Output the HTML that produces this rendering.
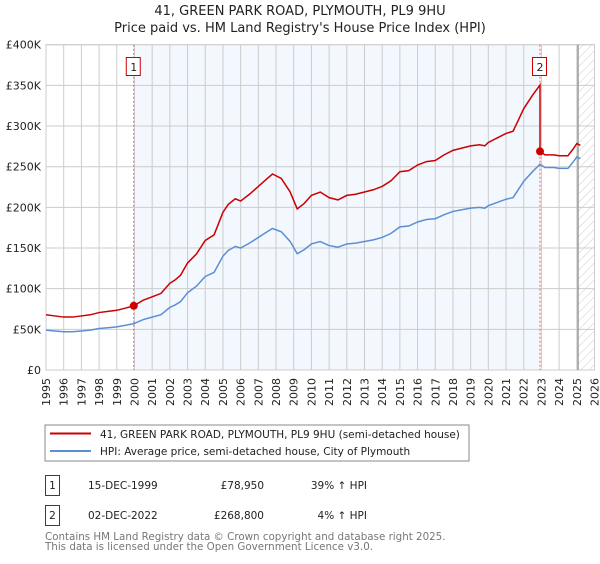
<!DOCTYPE html>
<html><head><meta charset="utf-8"><style>
body{margin:0;background:#fff;font-family:"DejaVu Sans","Liberation Sans",sans-serif;}
svg text{font-family:"DejaVu Sans","Liberation Sans",sans-serif;}
</style></head><body>
<svg id="c" width="600" height="560" xmlns="http://www.w3.org/2000/svg">
<defs><pattern id="hatch" width="6" height="6" patternUnits="userSpaceOnUse" patternTransform="rotate(45)"><line x1="0" y1="0" x2="0" y2="6" stroke="#ccc" stroke-width="1"/></pattern></defs>
<text x="300" y="15" text-anchor="middle" font-size="13" fill="#222">41, GREEN PARK ROAD, PLYMOUTH, PL9 9HU</text>
<text x="300" y="32" text-anchor="middle" font-size="13" fill="#222">Price paid vs. HM Land Registry's House Price Index (HPI)</text>
<g id="plot"></g>
<rect x="45" y="425" width="424" height="36" fill="#fff" stroke="#888"/>
<line x1="50" y1="433.5" x2="91" y2="433.5" stroke="#cc0000" stroke-width="2"/>
<text x="100" y="438" font-size="10.5" fill="#222">41, GREEN PARK ROAD, PLYMOUTH, PL9 9HU (semi-detached house)</text>
<line x1="50" y1="451" x2="91" y2="451" stroke="#5b8fd4" stroke-width="2"/>
<text x="100" y="455" font-size="10.5" fill="#222">HPI: Average price, semi-detached house, City of Plymouth</text>
<g>
<rect x="45.5" y="475.5" width="14" height="20" fill="#fff" stroke="#cc0000"/>
<text x="52.5" y="489" text-anchor="middle" font-size="10.5" fill="#222">1</text>
<text x="88" y="489" font-size="10.5" fill="#222">15-DEC-1999</text>
<text x="264" y="489" text-anchor="end" font-size="10.5" fill="#222">£78,950</text>
<text x="367" y="489" text-anchor="end" font-size="10.5" fill="#222">39% ↑ HPI</text></g>
<g>
<rect x="45.5" y="505.5" width="14" height="20" fill="#fff" stroke="#cc0000"/>
<text x="52.5" y="519" text-anchor="middle" font-size="10.5" fill="#222">2</text>
<text x="88" y="519" font-size="10.5" fill="#222">02-DEC-2022</text>
<text x="264" y="519" text-anchor="end" font-size="10.5" fill="#222">£268,800</text>
<text x="367" y="519" text-anchor="end" font-size="10.5" fill="#222">4% ↑ HPI</text></g>
<text x="45" y="540" font-size="10.3" fill="#777">Contains HM Land Registry data © Crown copyright and database right 2025.</text>
<text x="45" y="550" font-size="10.3" fill="#777">This data is licensed under the Open Government Licence v3.0.</text>
</svg>
<script>
const hpiYears=[1995,1995.5,1996,1996.5,1997,1997.5,1998,1998.5,1999,1999.5,1999.96,2000.5,2001,2001.5,2002,2002.3,2002.6,2003,2003.5,2004,2004.5,2005,2005.3,2005.7,2006,2006.5,2007,2007.5,2007.8,2008.3,2008.8,2009.2,2009.6,2010,2010.5,2011,2011.5,2012,2012.5,2013,2013.5,2014,2014.5,2015,2015.5,2016,2016.5,2017,2017.5,2018,2018.5,2019,2019.5,2019.8,2020,2020.5,2021,2021.4,2022,2022.5,2022.92,2023.2,2023.7,2024,2024.5,2024.8,2025,2025.2];
const hpiValues=[49,48,47,47,48,49,51,52,53,55,57,62,65,68,77,80,84,95,103,115,120,140,147,152,150,156,163,170,174,170,158,143,148,155,158,153,151,155,156,158,160,163,168,176,177,182,185,186,191,195,197,199,200,199,202,206,210,212,232,244,253,249,249,248,248,256,262,260];
const saleDates=[1999.96,2022.92];
const salePrices=[78.95,268.8];
const saleLabels=["1","2"];
const yTicks=[0,50,100,150,200,250,300,350,400];
const yTickLabels=["£0","£50K","£100K","£150K","£200K","£250K","£300K","£350K","£400K"];
const xTicks=[];for(let y=1995;y<=2026;y++)xTicks.push(y);
const X0=46,X1=594.5,Y0=370,Y1=44.7;
const sx=t=>X0+(t-1995)/31*(X1-X0);
const sy=v=>Y0-v/400*(Y0-Y1);
const NS="http://www.w3.org/2000/svg";
const g=document.getElementById('plot');
function mk(tag,at){const e=document.createElementNS(NS,tag);for(const k in at)e.setAttribute(k,at[k]);g.appendChild(e);return e;}
let e=mk('rect',{x:X0,y:Y1,width:X1-X0,height:Y0-Y1,fill:'#fff',stroke:'#ccc'});


e=mk('rect',{x:sx(saleDates[0]),y:Y1,width:sx(saleDates[1])-sx(saleDates[0]),height:Y0-Y1,fill:'#eef3fd',opacity:0.7});


e=mk('rect',{x:sx(2025.07),y:Y1,width:X1-sx(2025.07),height:Y0-Y1,fill:'url(#hatch)'});


xTicks.forEach(t=>{
  let l=mk('line',{x1:sx(t),x2:sx(t),y1:Y1,y2:Y0,stroke:'#ccc'});
  
  
  let tx=mk('text',{x:0,y:0,'font-size':11,fill:'#222','text-anchor':'end',transform:`translate(${sx(t)+4},${Y0+8}) rotate(-90)`});
  tx.textContent=t;
  
  
});
yTicks.forEach((v,i)=>{
  let l=mk('line',{x1:X0,x2:X1,y1:sy(v),y2:sy(v),stroke:'#ccc'});
  
  
  let tx=mk('text',{x:X0-5,y:sy(v)+4,'font-size':11,fill:'#222','text-anchor':'end'});
  tx.textContent=yTickLabels[i];
  
  
});
e=mk('line',{x1:sx(2025.07),x2:sx(2025.07),y1:Y1,y2:Y0,stroke:'#888','stroke-width':1.2});


saleDates.forEach((d,i)=>{
  let l=mk('line',{x1:sx(d),x2:sx(d),y1:Y1,y2:Y0,stroke:'#e06666','stroke-dasharray':'2,2'});
  
  
});
const f1=salePrices[0]/57, f2=salePrices[1]/253;
let redPts=[];
hpiYears.forEach((t,i)=>{ if(t<=saleDates[1]) redPts.push([t,hpiValues[i]*f1]); });
redPts.push([saleDates[1],salePrices[1]]);
hpiYears.forEach((t,i)=>{ if(t>saleDates[1]) redPts.push([t,hpiValues[i]*f2]); });
e=mk('polyline',{points:hpiYears.map((t,i)=>sx(t)+','+sy(hpiValues[i])).join(' '),fill:'none',stroke:'#5b8fd4','stroke-width':1.5});


e=mk('polyline',{points:redPts.map(p=>sx(p[0])+','+sy(p[1])).join(' '),fill:'none',stroke:'#cc0000','stroke-width':1.5});


saleDates.forEach((d,i)=>{
  let c=mk('circle',{cx:sx(d),cy:sy(salePrices[i]),r:4,fill:'#cc0000'});
  
  
  let r=mk('rect',{x:sx(d)-7.5,y:57.5,width:14,height:18,fill:'#fff',stroke:'#cc0000'});
  
  
  let tx=mk('text',{x:sx(d),y:71,'font-size':11,fill:'#222','text-anchor':'middle'});
  tx.textContent=saleLabels[i];
  
  
});
</script>
</body></html>
